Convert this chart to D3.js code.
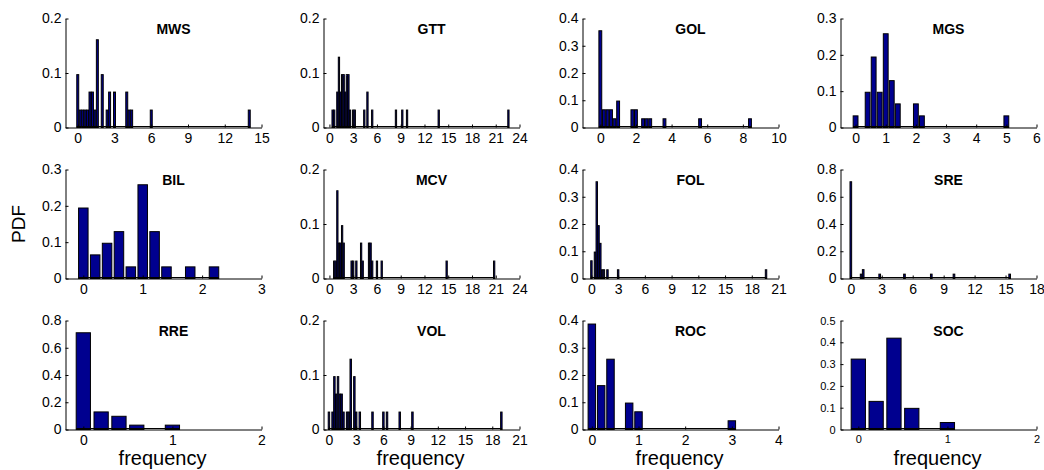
<!DOCTYPE html>
<html>
<head>
<meta charset="utf-8">
<script src="https://cdn.jsdelivr.net/npm/d3@7"></script>
<style>
  html, body { margin: 0; padding: 0; background: #fff; }
  svg { display: block; }
  text { font-family: "Liberation Sans", Arial, Helvetica, sans-serif; fill: #000; }
</style>
</head>
<body>
<script>
// ---------- data ----------
const titles = ["MWS","GTT","GOL","MGS","BIL","MCV","FOL","SRE","RRE","VOL","ROC","SOC"];

const mwsX   = [0,0.2,0.4,0.6,0.8,1.0,1.2,1.4,1.6,2.0,2.4,2.6,3.0,4.0,4.2,4.4,6.0,14.0];
const mwsPdf = [0.097,0.032,0.032,0.032,0.032,0.065,0.065,0.032,0.161,0.097,0.032,0.065,0.065,0.065,0.032,0.032,0.032,0.032];

const gttX   = [0.4,0.6,1.0,1.2,1.4,1.6,1.8,2.0,2.2,2.4,2.6,3.0,3.2,4.4,4.8,5.4,8.4,9.2,9.8,13.8,22.6];
const gttPdf = [0.032,0.032,0.065,0.129,0.065,0.097,0.097,0.065,0.097,0.097,0.032,0.032,0.032,0.032,0.065,0.032,0.032,0.032,0.032,0.032,0.032];

const golX   = [0,0.2,0.4,0.6,0.8,1.0,1.8,2.0,2.4,2.6,2.8,3.6,5.6,8.4];
const golPdf = [0.355,0.065,0.065,0.065,0.032,0.097,0.065,0.065,0.032,0.032,0.032,0.032,0.032,0.032];

const mgsX   = [0,0.4,0.6,0.8,1.0,1.2,1.4,2.0,2.2,5.0];
const mgsPdf = [0.032,0.097,0.194,0.097,0.258,0.129,0.065,0.065,0.032,0.032];

const bilX   = [0,0.2,0.4,0.6,0.8,1.0,1.2,1.4,1.8,2.2];
const bilPdf = [0.194,0.065,0.097,0.129,0.032,0.258,0.129,0.032,0.032,0.032];

const mcvX   = [0.6,0.8,1.0,1.2,1.4,1.6,1.8,2.8,3.0,3.4,4.0,4.2,5.0,5.2,5.4,6.0,6.6,14.8,20.8];
const mcvPdf = [0.032,0.032,0.161,0.065,0.065,0.097,0.065,0.032,0.032,0.032,0.065,0.032,0.065,0.065,0.032,0.032,0.032,0.032,0.032];

const folX   = [0,0.4,0.6,0.8,1.0,1.2,1.4,1.8,3.0,19.6];
const folPdf = [0.065,0.097,0.355,0.194,0.129,0.032,0.032,0.032,0.032,0.032];

const sreX   = [0,1.0,1.2,2.8,5.2,7.8,10.0,15.4];
const srePdf = [0.71,0.032,0.065,0.032,0.032,0.032,0.032,0.032];

const rreX   = [0,0.2,0.4,0.6,1.0];
const rrePdf = [0.71,0.129,0.097,0.032,0.032];

const volX   = [0,0.4,0.6,0.8,1.0,1.2,1.4,1.6,2.0,2.2,2.4,2.8,3.0,3.4,4.8,6.0,6.4,7.8,9.2,19.0];
const volPdf = [0.032,0.032,0.097,0.065,0.097,0.065,0.065,0.032,0.032,0.032,0.129,0.097,0.032,0.032,0.032,0.032,0.032,0.032,0.032,0.032];

const rocX   = [0,0.2,0.4,0.8,1.0,3.0];
const rocPdf = [0.387,0.161,0.258,0.097,0.065,0.032];

const socX   = [0,0.2,0.4,0.6,1.0];
const socPdf = [0.323,0.129,0.419,0.097,0.032];

// tick labels
const xTicks = [
  [0,3,6,9,12,15], [0,3,6,9,12,15,18,21,24], [0,2,4,6,8,10], [0,1,2,3,4,5,6],
  [0,1,2,3], [0,3,6,9,12,15,18,21,24], [0,3,6,9,12,15,18,21], [0,3,6,9,12,15,18],
  [0,1,2], [0,3,6,9,12,15,18,21], [0,1,2,3,4], [0,1,2]
];
const yTicks = [
  [0,0.1,0.2], [0,0.1,0.2], [0,0.1,0.2,0.3,0.4], [0,0.1,0.2,0.3],
  [0,0.1,0.2,0.3], [0,0.1,0.2], [0,0.1,0.2,0.3,0.4], [0,0.2,0.4,0.6,0.8],
  [0,0.2,0.4,0.6,0.8], [0,0.1,0.2], [0,0.1,0.2,0.3,0.4], [0,0.1,0.2,0.3,0.4,0.5]
];
const xLims = [
  [-1,15], [-0.75,24], [-1,10], [-0.5,6],
  [-0.3,3], [-0.75,24], [-1,21], [-1,18],
  [-0.2,2], [-0.6,21], [-0.2,4], [-0.2,2]
];
const binWidth = 0.2;

const series = [
  [mwsX,mwsPdf],[gttX,gttPdf],[golX,golPdf],[mgsX,mgsPdf],
  [bilX,bilPdf],[mcvX,mcvPdf],[folX,folPdf],[sreX,srePdf],
  [rreX,rrePdf],[volX,volPdf],[rocX,rocPdf],[socX,socPdf]
];

// ---------- layout ----------
const colLeft = [65, 323, 582, 840];
const rowTop = [18, 169, 320];
const W = 196, H = 109;
const barFrac = 0.8;

const svg = d3.select("body").append("svg")
  .attr("width", 1044).attr("height", 470);

series.forEach(([xs, ps], i) => {
  const r = Math.floor(i / 4), c = i % 4;
  const small = (i === 11);
  const g = svg.append("g")
    .attr("transform", `translate(${colLeft[c] + 0.5},${rowTop[r] + 0.5})`);

  const yt = yTicks[i];
  const x = d3.scaleLinear().domain(xLims[i]).range([0, W]);
  const y = d3.scaleLinear().domain([0, yt[yt.length - 1]]).range([H, 0]);

  const half = binWidth * barFrac / 2;
  const data = d3.zip(xs, ps);

  // bars
  g.append("g").selectAll("rect").data(data).join("rect")
    .attr("x", d => x(d[0] - half))
    .attr("width", d => x(d[0] + half) - x(d[0] - half))
    .attr("y", d => y(d[1]))
    .attr("height", d => y(0) - y(d[1]))
    .attr("fill", "#00008f")
    .attr("stroke", "#000")
    .attr("stroke-width", 1);

  // baseline of zero-height bins over data span
  g.append("line")
    .attr("x1", x(d3.min(xs) - half)).attr("x2", x(d3.max(xs) + half))
    .attr("y1", y(0) - 1).attr("y2", y(0) - 1)
    .attr("stroke", "#000").attr("stroke-width", 1);

  // x axis
  const xa = g.append("g").attr("transform", `translate(0,${H})`)
    .call(d3.axisBottom(x).tickValues(xTicks[i]).tickSize(-3).tickSizeOuter(0)
      .tickPadding(6).tickFormat(d3.format("~g")));
  // y axis
  const ya = g.append("g")
    .call(d3.axisLeft(y).tickValues(yt).tickSize(-3).tickSizeOuter(0)
      .tickPadding(small ? 5 : 4).tickFormat(d3.format("~g")));

  [xa, ya].forEach(a => {
    a.select(".domain").attr("stroke", "#000").attr("stroke-width", 1);
    a.selectAll(".tick line").attr("stroke", "#000");
    a.selectAll(".tick text")
      .style("font-family", '"Liberation Sans", Arial, sans-serif')
      .style("font-size", small ? "11px" : "14px")
      .attr("fill", "#000");
  });

  // title
  g.append("text")
    .attr("x", W / 2 + 10).attr("y", 15)
    .attr("text-anchor", "middle")
    .style("font-weight", "bold").style("font-size", "14px")
    .text(titles[i]);

  // x label on bottom row
  if (r === 2) {
    g.append("text")
      .attr("x", W / 2 - 1).attr("y", H + 35)
      .attr("text-anchor", "middle")
      .style("font-size", "20px")
      .text("frequency");
  }
});

// y label
svg.append("text")
  .attr("transform", "translate(25,224) rotate(-90)")
  .attr("text-anchor", "middle")
  .style("font-size", "19px")
  .text("PDF");
</script>
</body>
</html>
